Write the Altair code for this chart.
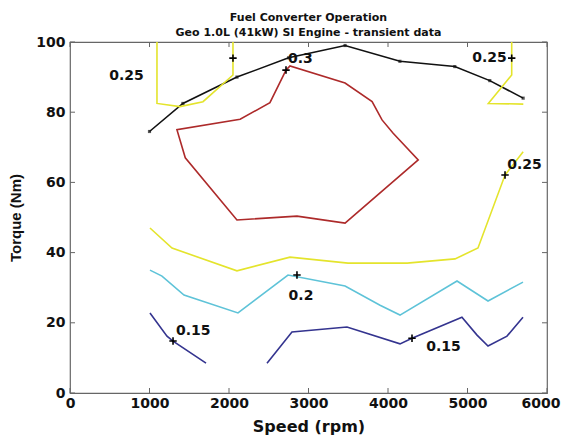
import altair as alt
import pandas as pd

# ---- data ----
black_x = [1000, 1420, 2100, 2750, 3460, 4150, 4840, 5280, 5700]
black_y = [74.5, 82.5, 90, 95.5, 99, 94.5, 93, 89, 84]

yellow_tl_x = [1094, 1094, 1384, 1673, 2050, 2050]
yellow_tl_y = [100, 82.5, 81.6, 83, 90.6, 100]

yellow_tr_x = [5556, 5556, 5262, 5702]
yellow_tr_y = [100, 90.6, 82.5, 82.3]

red_x = [2717, 2767, 3460, 3800, 3925, 4065, 4380, 3460, 2855, 2100, 1450, 1345, 2140, 2515, 2717]
red_y = [92, 93.2, 88.3, 83, 77.8, 74, 66.4, 48.4, 50.4, 49.3, 67, 75, 78, 82.7, 92]

yellow_lo_x = [1006, 1283, 2100, 2767, 3497, 4240, 4843, 5132, 5472, 5700]
yellow_lo_y = [47, 41.3, 34.8, 38.7, 37, 37, 38.2, 41.3, 62.1, 68.7]

cyan_x = [1006, 1157, 1434, 2113, 2742, 3460, 3900, 4151, 4868, 5258, 5698]
cyan_y = [35, 33.3, 27.9, 22.8, 33.6, 30.5, 25, 22.2, 31.9, 26.2, 31.6]

blue_l_x = [1006, 1220, 1296, 1711]
blue_l_y = [22.8, 16.2, 14.8, 8.5]

blue_r_x = [2478, 2792, 3484, 4151, 4302, 4930, 5120, 5258, 5497, 5698]
blue_r_y = [8.5, 17.4, 18.8, 14, 15.6, 21.6, 16.5, 13.4, 16.2, 21.6]

marker_x = [2050, 2717, 5556, 5472, 2855, 1296, 4302]
marker_y = [95.4, 92, 95.4, 62.1, 33.6, 14.8, 15.6]

label_x = [711, 2899, 5277, 5717, 2906, 1550, 4698]
label_y = [90.3, 95.2, 95.3, 65, 27.5, 17.7, 13]
label_t = ["0.25", "0.3", "0.25", "0.25", "0.2", "0.15", "0.15"]

x_ticks = [0, 1000, 2000, 3000, 4000, 5000, 6000]
y_ticks = [0, 20, 40, 60, 80, 100]

segments = [
    ("black", black_x, black_y),
    ("yellow_tl", yellow_tl_x, yellow_tl_y),
    ("yellow_tr", yellow_tr_x, yellow_tr_y),
    ("red", red_x, red_y),
    ("yellow_lo", yellow_lo_x, yellow_lo_y),
    ("cyan", cyan_x, cyan_y),
    ("blue_l", blue_l_x, blue_l_y),
    ("blue_r", blue_r_x, blue_r_y),
]
rows = []
for name, xs, ys in segments:
    for i, (a, b) in enumerate(zip(xs, ys)):
        rows.append({"seg": name, "i": i, "x": a, "y": b})
lines_df = pd.DataFrame(rows)

seg_names = [s[0] for s in segments]
seg_colors = ["#111111", "#e4e42c", "#e4e42c", "#ad2a2a", "#e4e42c", "#5ec3d8", "#34348f", "#34348f"]

W, H = 477, 351
FONT = "DejaVu Sans"

xs = alt.Scale(domain=[0, 6000], nice=False)
ys = alt.Scale(domain=[0, 100], nice=False)

X = alt.X("x:Q", scale=xs, axis=alt.Axis(
    title="Speed (rpm)", values=x_ticks, format="d", ticks=False, domain=False, grid=False,
    labelFont=FONT, labelFontSize=14, labelFontWeight="bold", labelColor="#111",
    labelPadding=3, labelFlush=False,
    labelAlign={"expr": "datum.value == 6000 ? 'right' : 'center'"},
    labelOffset={"expr": "datum.value == 6000 ? 13 : 0"},
    titleFont=FONT, titleFontSize=16, titleFontWeight="bold", titleColor="#111",
    titlePadding=8))
Y = alt.Y("y:Q", scale=ys, axis=alt.Axis(
    title="Torque (Nm)", values=y_ticks, format="d", ticks=False, domain=False, grid=False,
    labelFont=FONT, labelFontSize=14, labelFontWeight="bold", labelColor="#111",
    labelPadding=5, labelFlush=False,
    titleFont="Liberation Sans", titleFontSize=15, titleFontWeight="bold", titleColor="#111",
    titlePadding=12))

lines = alt.Chart(lines_df).mark_line(strokeWidth=1.6).encode(
    x=X, y=Y,
    color=alt.Color("seg:N", scale=alt.Scale(domain=seg_names, range=seg_colors), legend=None),
    detail="seg:N",
    order="i:Q",
)

black_pts = alt.Chart(pd.DataFrame({"x": black_x, "y": black_y})).mark_point(
    shape="square", filled=True, color="#111", size=10).encode(x="x:Q", y="y:Q")

plus = alt.Chart(pd.DataFrame({"x": marker_x, "y": marker_y})).mark_point(
    shape="M-1,0L1,0M0,-1L0,1", filled=False, stroke="#000", strokeWidth=1.6,
    size=55, opacity=1).encode(x="x:Q", y="y:Q")

labels = alt.Chart(pd.DataFrame({"x": label_x, "y": label_y, "t": label_t})).mark_text(
    font=FONT, fontSize=14, fontWeight="bold", color="#111",
    align="center", baseline="middle").encode(x="x:Q", y="y:Q", text="t:N")

xt = pd.DataFrame({"x": x_ticks})
yt = pd.DataFrame({"y": y_ticks})
tick_color = "#666"
xt_bottom = alt.Chart(xt).mark_rule(color=tick_color).encode(
    x="x:Q", y=alt.value(H), y2=alt.value(H - 5))
xt_top = alt.Chart(xt).mark_rule(color=tick_color).encode(
    x="x:Q", y=alt.value(0), y2=alt.value(5))
yt_left = alt.Chart(yt).mark_rule(color=tick_color).encode(
    y="y:Q", x=alt.value(0), x2=alt.value(5))
yt_right = alt.Chart(yt).mark_rule(color=tick_color).encode(
    y="y:Q", x=alt.value(W), x2=alt.value(W - 5))

chart = alt.layer(
    xt_bottom, xt_top, yt_left, yt_right, lines, black_pts, plus, labels
).properties(
    width=W, height=H,
    autosize=alt.AutoSizeParams(type="none"),
    padding={"left": 62, "top": 34, "right": 14, "bottom": 44},
    title=alt.TitleParams(
        text=["Fuel Converter Operation", "Geo 1.0L (41kW) SI Engine - transient data"],
        font=FONT, fontSize=11, fontWeight="bold", color="#111",
        lineHeight=15, offset=-3, anchor="middle"),
    background="white",
).configure_view(stroke="#666", strokeWidth=1.2)

chart.save("out.html", embed_options={"renderer": "svg", "actions": False})
